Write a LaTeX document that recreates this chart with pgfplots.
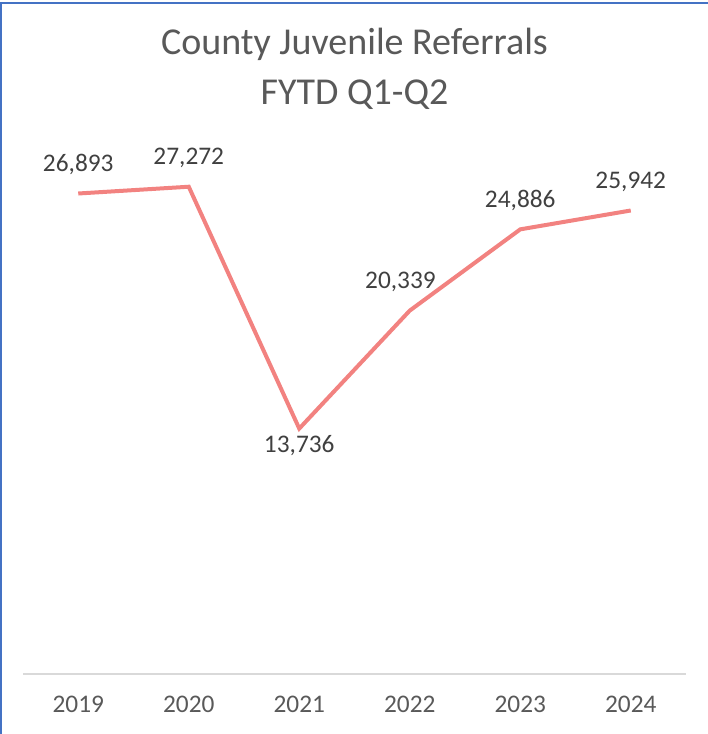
\documentclass[border=0pt]{standalone}
\usepackage{pgfplots}
\pgfplotsset{compat=1.18}
\usepackage{fontspec}
\setmainfont{Carlito}

\definecolor{linered}{RGB}{242,130,128}
\definecolor{titlegray}{RGB}{89,89,89}
\definecolor{labelgray}{RGB}{64,64,64}
\definecolor{axisgray}{RGB}{217,217,217}
\definecolor{frameblue}{RGB}{68,114,196}

\begin{document}
\begin{tikzpicture}
\begin{axis}[
	scale only axis,
	width=497.25pt,
	height=402pt,
	xmin=-0.5, xmax=5.5,
	ymin=0, ymax=30000,
	xtick={0,1,2,3,4,5},
	xticklabels={2019,2020,2021,2022,2023,2024},
	ytick=\empty,
	axis y line=none,
	axis x line*=bottom,
	x axis line style={axisgray, line width=1.5pt, -},
	xtick style={draw=none},
	xticklabel style={font=\fontsize{19}{22}\selectfont, text=titlegray, yshift=-13pt},
	/pgf/number format/assume math mode=true,
	/pgf/number format/.cd, 1000 sep={,},
	/pgfplots/.cd,
	clip=false,
]
\addplot[
	color=linered,
	line width=3pt,
	mark=none,
	nodes near coords,
	every node near coord/.append style={
		font=\fontsize{19}{22}\selectfont,
		text=labelgray,
		anchor=south,
		inner sep=0pt,
		yshift=12.5pt,
	},
	coordinate style/.condition={y<15000}{yshift=-34.25pt},
	coordinate style/.condition={x>2.5 && x<3.5}{xshift=-7pt},
] coordinates {
	(0,26893)
	(1,27272)
	(2,13736)
	(3,20339)
	(4,24886)
	(5,25942)
};
\node[font=\fontsize{28.5}{32}\selectfont, text=titlegray] at ([yshift=70.5pt]rel axis cs:0.5,1) {County Juvenile Referrals};
\node[font=\fontsize{28.5}{32}\selectfont, text=titlegray] at ([yshift=32.25pt]rel axis cs:0.5,1) {FYTD Q1-Q2};
\coordinate (sw) at (rel axis cs:0,0);
\coordinate (ne) at (rel axis cs:1,1);
\end{axis}
\path[use as bounding box] ([shift={(-17.25pt,-45pt)}]sw) rectangle ([shift={(16.5pt,103.5pt)}]ne);
% chart frame: only the left and top edges show in the reference
\draw[frameblue, line width=1.4pt]
	([shift={(-16.55pt,-45pt)}]sw) -- ([shift={(-16.55pt,101.5pt)}]sw |- ne)
	-- ([shift={(16.5pt,101.5pt)}]ne);
\fill[frameblue] ([shift={(-17.25pt,101pt)}]sw |- ne) rectangle ([shift={(16.5pt,102.2pt)}]ne);
\end{tikzpicture}
\end{document}
